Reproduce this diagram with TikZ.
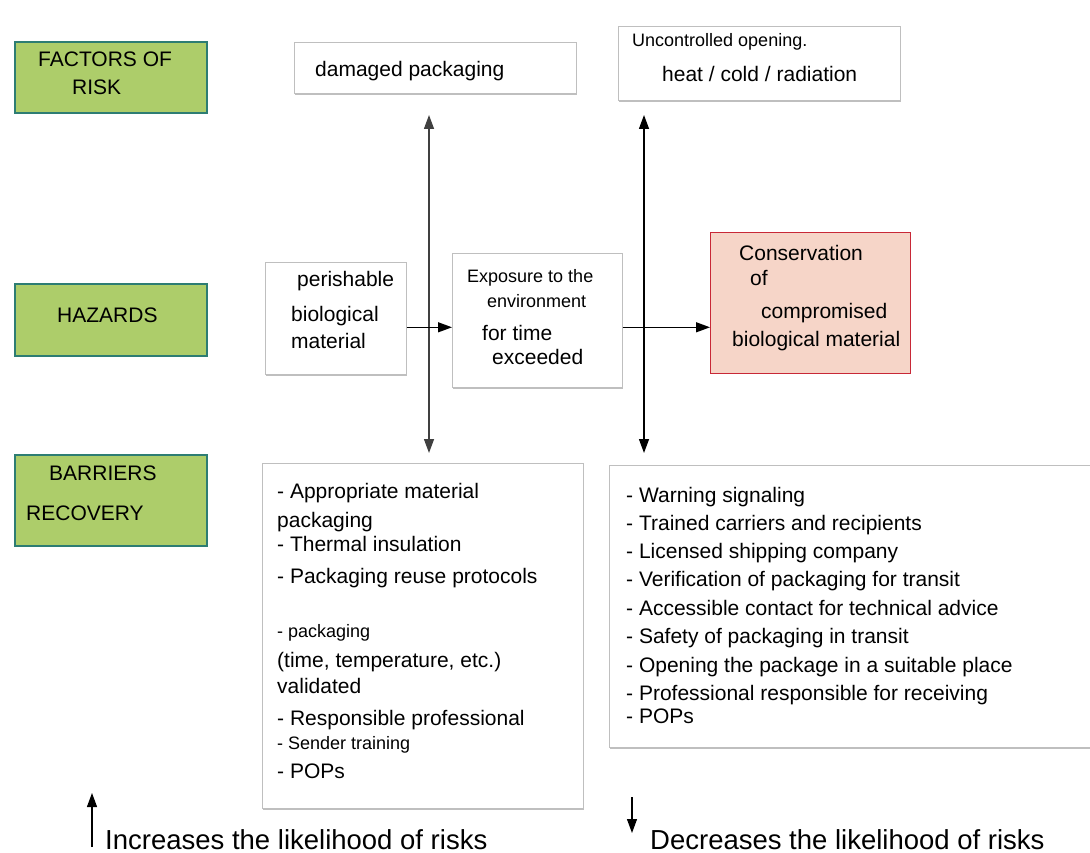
\documentclass[tikz,border=0pt]{standalone}
\usepackage{fontspec}
\setmainfont{Liberation Sans}
\usetikzlibrary{arrows.meta,shadows}

\definecolor{rowgreen}{RGB}{173,205,106}
\definecolor{rowedge}{RGB}{45,125,115}
\definecolor{badfill}{RGB}{246,213,200}
\definecolor{badedge}{RGB}{200,40,55}

\tikzset{
  rowbox/.style={draw=rowedge,fill=rowgreen,line width=1.6pt,anchor=north west},
  whitebox/.style={draw=black!25,fill=white,line width=.6pt,anchor=north west,
    drop shadow={shadow xshift=1pt,shadow yshift=-2pt,opacity=.5}},
  badbox/.style={draw=badedge,fill=badfill,line width=1.4pt,anchor=north west},
  txt/.style={anchor=base west,inner sep=0pt,font=\fontsize{21}{25}\selectfont},
  smalltxt/.style={txt,font=\fontsize{18}{21}\selectfont},
  legtxt/.style={txt,font=\fontsize{27.5}{31}\selectfont},
  arr/.style={line width=1.3pt,-{Triangle[width=10pt,length=14pt]}},
  twoarr/.style={line width=1.3pt,{Triangle[width=10pt,length=14pt]}-{Triangle[width=10pt,length=14pt]}},
  legarr/.style={line width=1.1pt,-{Triangle[width=10pt,length=14pt]}}
}

\begin{document}
\begin{tikzpicture}[x=1pt,y=-1pt]
  \useasboundingbox (0,0) rectangle (1090,853);

  % row labels
  \node[rowbox,minimum width=192,minimum height=71] (risk) at (14,41) {};
  \node[rowbox,minimum width=192,minimum height=72] (haz) at (14,283) {};
  \node[rowbox,minimum width=192,minimum height=91] (barr) at (14,454) {};
  \node[txt] (riskA) at (38,67) {FACTORS OF};
  \node[txt] (riskB) at (72,95) {RISK};
  \node[txt] (hazA) at (57,322) {HAZARDS};
  \node[txt] (barrA) at (49,480) {BARRIERS};
  \node[txt] (barrB) at (26,520) {RECOVERY};

  % factors of risk
  \node[whitebox,minimum width=282,minimum height=51] (dmg) at (294,42) {};
  \node[txt] (dmgA) at (315,77) {damaged packaging};
  \node[whitebox,minimum width=282,minimum height=74] (unc) at (618,26) {};
  \node[smalltxt] (uncA) at (632,47) {Uncontrolled opening.};
  \node[txt] (uncB) at (662,82) {heat / cold / radiation};

  % hazards
  \node[whitebox,minimum width=141,minimum height=112] (per) at (265,262) {};
  \node[txt] (perA) at (297,287) {perishable};
  \node[txt] (perB) at (291,321) {biological};
  \node[txt] (perC) at (291,348) {material};

  \node[whitebox,minimum width=170,minimum height=134] (exp) at (452,253) {};
  \node[smalltxt] (expA) at (467,283) {Exposure to the};
  \node[smalltxt] (expB) at (487,307) {environment};
  \node[txt] (expC) at (482,340) {for time};
  \node[txt] (expD) at (492,364) {exceeded};

  \node[badbox,minimum width=200,minimum height=141] (cons) at (710,232) {};
  \node[txt] (consA) at (739,261) {Conservation};
  \node[txt] (consB) at (750,285) {of};
  \node[txt] (consC) at (761,318) {compromised};
  \node[txt] (consD) at (732,346) {biological material};

  % barriers
  \node[whitebox,minimum width=321,minimum height=345] (lbar) at (262,463) {};
  \node[txt] (lbA) at (277,498) {- Appropriate material};
  \node[txt] (lbB) at (277,527) {packaging};
  \node[txt] (lbC) at (277,551) {- Thermal insulation};
  \node[txt] (lbD) at (277,583) {- Packaging reuse protocols};
  \node[smalltxt] (lbE) at (277,637) {- packaging};
  \node[txt] (lbF) at (277,667) {(time, temperature, etc.)};
  \node[txt] (lbG) at (277,693) {validated};
  \node[txt] (lbH) at (277,725) {- Responsible professional};
  \node[smalltxt] (lbI) at (277,749) {- Sender training};
  \node[txt] (lbJ) at (277,778) {- POPs};

  \node[whitebox,minimum width=490,minimum height=282] (rbar) at (609,465) {};
  \node[txt] (rbA) at (626,502) {- Warning signaling};
  \node[txt] (rbB) at (626,530) {- Trained carriers and recipients};
  \node[txt] (rbC) at (626,558) {- Licensed shipping company};
  \node[txt] (rbD) at (626,586) {- Verification of packaging for transit};
  \node[txt] (rbE) at (626,615) {- Accessible contact for technical advice};
  \node[txt] (rbF) at (626,643) {- Safety of packaging in transit};
  \node[txt] (rbG) at (626,672) {- Opening the package in a suitable place};
  \node[txt] (rbH) at (626,700) {- Professional responsible for receiving};
  \node[txt] (rbI) at (626,723) {- POPs};

  % connectors
  \coordinate (upL) at (429,115);
  \coordinate (dnL) at (429,453);
  \coordinate (upR) at (644,115);
  \coordinate (dnR) at (644,453);
  \draw[twoarr,black!75] (upL) -- (dnL);
  \draw[twoarr] (upR) -- (dnR);
  \draw[arr] ([yshift=-9pt]per.east) -- ([yshift=-9pt]per.east -| exp.west);
  \draw[arr] ([yshift=-7pt]exp.east) -- ([yshift=-7pt]exp.east -| cons.west);

  % legend
  \coordinate (incS) at (92,847);
  \coordinate (incE) at (92,793);
  \coordinate (decS) at (632,797);
  \coordinate (decE) at (632,833);
  \draw[legarr] (incS) -- (incE);
  \draw[legarr] (decS) -- (decE);
  \node[legtxt] (incT) at (105,849) {Increases the likelihood of risks};
  \node[legtxt] (decT) at (650,849) {Decreases the likelihood of risks};
\end{tikzpicture}
\end{document}
